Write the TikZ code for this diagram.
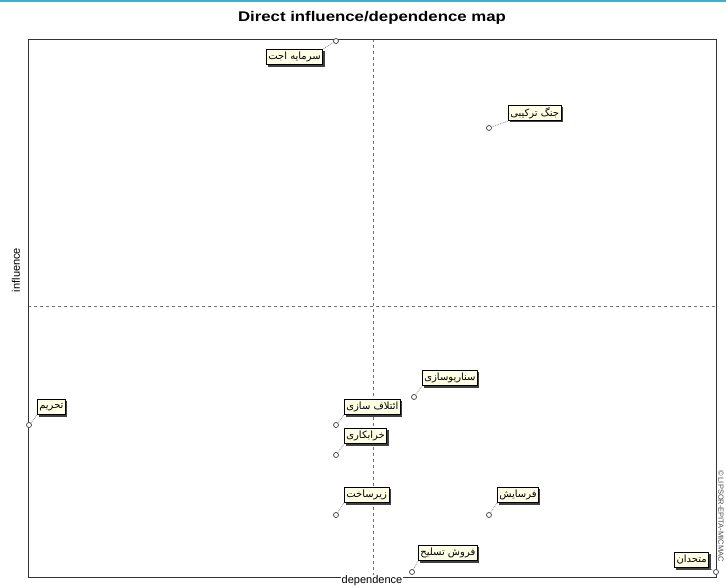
\documentclass[tikz,border=0pt]{standalone}
\usepackage{fontspec}
\setmainfont{Liberation Sans}
\newfontfamily\arabicfont[Script=Arabic]{DejaVu Sans}
\TeXXeTstate=1
\usetikzlibrary{shadows}
\definecolor{boxfill}{HTML}{FFFFE6}
\definecolor{topline}{HTML}{3AAFCF}
\tikzset{
  pt/.style={circle, draw=black!75, fill=white, line width=0.7pt, minimum size=5pt, inner sep=0pt},
  lbl/.style={draw=black, line width=0.6pt, fill=boxfill, inner xsep=2pt, inner ysep=1.5pt, minimum height=15.5pt,
    font=\arabicfont\fontsize{10}{11}\selectfont,
    drop shadow={shadow xshift=1.8pt, shadow yshift=-1.8pt, fill=black!75, opacity=1}},
  conn/.style={draw=black!45, densely dotted, line width=0.8pt},
  frame/.style={draw=black!80, line width=0.9pt},
  axis/.style={draw=black!55, dashed, line width=0.5pt},
}
\begin{document}
\begin{tikzpicture}[x=1pt,y=-1pt]
\useasboundingbox (0,0) rectangle (726,588);
\fill[white] (0,0) rectangle (726,588);
\draw[topline, line width=1.5pt] (0,1) -- (726,1);
\node[font=\bfseries\fontsize{14}{16}\selectfont, xscale=1.2] (title) at (372,18) {Direct influence/dependence map};
% frame and axes
\coordinate (tl) at (28,39);
\coordinate (br) at (716,577);
\coordinate (vt) at (373,39);
\coordinate (vb) at (373,577);
\coordinate (hl) at (28,306);
\coordinate (hr) at (716,306);
\draw[axis] (vt) -- (vb);
\draw[axis] (hl) -- (hr);
\draw[frame] (tl) rectangle (br);
\node[font=\fontsize{11}{12}\selectfont, rotate=90] (ylab) at (16,270) {influence};
\node[font=\fontsize{11}{12}\selectfont, fill=white, inner sep=0.5pt] (xlab) at (372,581) {dependence};
\node[font=\fontsize{7.5}{8}\selectfont, rotate=-90, text=black!70] (copy) at (721,516) {© LIPSOR-EPITA-MICMAC};
% points
\node[pt] (p1) at (336,41) {};
\node[pt] (p2) at (489,128) {};
\node[pt] (p3) at (29,425) {};
\node[pt] (p4) at (414,397) {};
\node[pt] (p5) at (336,425) {};
\node[pt] (p6) at (336,455) {};
\node[pt] (p7) at (336,515) {};
\node[pt] (p8) at (489,515) {};
\node[pt] (p9) at (412,572) {};
\node[pt] (p10) at (716,572) {};
% labels
\node[lbl, anchor=north east] (l1) at (323,49) {\beginR سرمایه اجت\endR};
\node[lbl, anchor=south west] (l2) at (508,121) {\beginR جنگ ترکیبی\endR};
\node[lbl, anchor=south west] (l3) at (37,415) {\beginR تحریم\endR};
\node[lbl, anchor=south west] (l4) at (422,386) {\beginR سناریوسازی\endR};
\node[lbl, anchor=south west] (l5) at (344,415) {\beginR ائتلاف سازی\endR};
\node[lbl, anchor=south west] (l6) at (344,444) {\beginR خرابکاری\endR};
\node[lbl, anchor=south west] (l7) at (344,503) {\beginR زیرساخت\endR};
\node[lbl, anchor=south west] (l8) at (497,503) {\beginR فرسایش\endR};
\node[lbl, anchor=south west] (l9) at (418,561) {\beginR فروش تسلیح\endR};
\node[lbl, anchor=south east] (l10) at (709,568) {\beginR متحدان\endR};
% connectors
\draw[conn] (p1) -- (l1.north east);
\draw[conn] (p2) -- (l2.south west);
\draw[conn] (p3) -- (l3.south west);
\draw[conn] (p4) -- (l4.south west);
\draw[conn] (p5) -- (l5.south west);
\draw[conn] (p6) -- (l6.south west);
\draw[conn] (p7) -- (l7.south west);
\draw[conn] (p8) -- (l8.south west);
\draw[conn] (p9) -- (l9.south west);
\draw[conn] (p10) -- (l10.south east);
\end{tikzpicture}
\end{document}
